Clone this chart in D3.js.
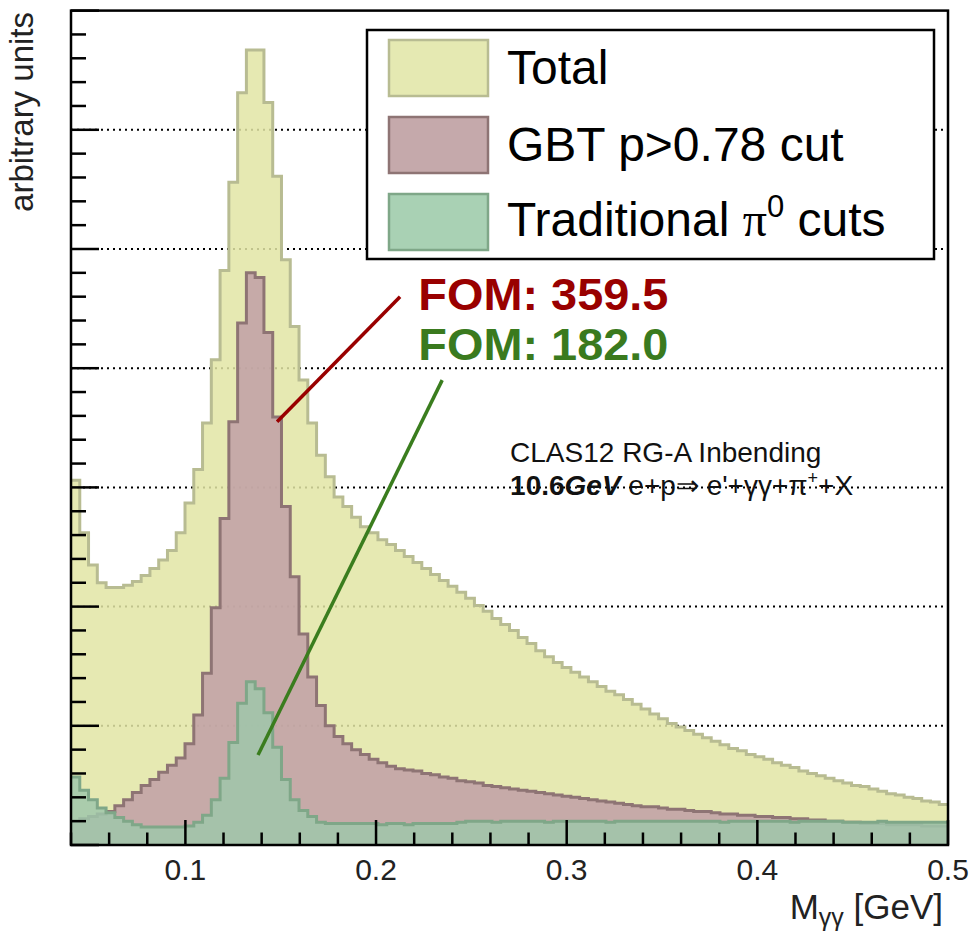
<!DOCTYPE html>
<html>
<head>
<meta charset="utf-8">
<script src="https://cdn.jsdelivr.net/npm/d3@7"></script>
<style>
  html, body { margin: 0; padding: 0; background: #fff; }
  svg { display: block; font-family: "Liberation Sans", Arial, Helvetica, sans-serif; }
</style>
</head>
<body>
<svg id="chart" width="971" height="933"></svg>
<script>
// Diphoton invariant mass, 100 bins between 0.04 and 0.5 GeV (arbitrary units)
const massLow = 0.04;
const massHigh = 0.5;
const nBins = 100;

const total = [
  306, 262, 235, 220, 216, 216, 218, 221, 226, 232,
  239, 247, 262, 287, 315, 354, 407, 482, 556, 631,
  667, 667, 623, 561, 491, 435, 390, 354, 327, 309,
  292, 284, 275, 267, 262, 256, 252, 247, 242, 237,
  232, 227, 222, 217, 212, 207, 201, 196, 190, 185,
  180, 174, 169, 163, 158, 153, 149, 145, 141, 137,
  133, 129, 126, 122, 118, 114, 110, 106, 102, 99,
  96, 93, 90, 87, 84, 81, 79, 76, 74, 72,
  69, 67, 65, 62, 60, 58, 56, 54, 52, 50,
  49, 47, 45, 43, 42, 40, 39, 37, 36, 34
];

const gbtCut = [
  20, 22, 24, 26, 28, 33, 38, 44, 50, 55,
  61, 67, 73, 85, 109, 144, 199, 274, 355, 438,
  480, 476, 430, 359, 284, 225, 177, 141, 117, 100,
  91, 85, 80, 76, 72, 69, 66, 64, 63, 62,
  60, 59, 57, 56, 54, 53, 52, 50, 49, 48,
  47, 46, 45, 44, 43, 42, 41, 40, 39, 38,
  37, 36, 35, 34, 33, 32, 32, 31, 30, 30,
  29, 28, 28, 27, 26, 26, 25, 25, 24, 24,
  23, 23, 22, 22, 21, 21, 20, 20, 19, 19,
  18, 18, 18, 17, 17, 17, 17, 16, 16, 16
];

const traditional = [
  57, 46, 38, 31, 27, 23, 20, 17, 15, 15,
  15, 15, 15, 16, 19, 25, 38, 56, 86, 119,
  137, 131, 111, 82, 55, 38, 29, 24, 19, 18,
  18, 18, 18, 18, 18, 17, 18, 18, 17, 18,
  18, 18, 18, 18, 19, 20, 20, 20, 19, 20,
  20, 20, 20, 20, 19, 20, 20, 20, 20, 20,
  20, 19, 20, 20, 20, 20, 20, 20, 20, 20,
  20, 20, 20, 20, 19, 20, 20, 20, 20, 20,
  20, 20, 19, 20, 20, 20, 20, 20, 19, 19,
  19, 19, 20, 19, 19, 19, 19, 19, 19, 19
];

const seriesNames = ["Total", "GBT p>0.78 cut", "Traditional"];
const xTickLabels = [0.1, 0.2, 0.3, 0.4, 0.5];
const yMajorTicks = [0, 100, 200, 300, 400, 500, 600, 700];

// annotation pointers [mass, value] and FOM labels
const fomLabels = ["FOM: 359.5", "FOM: 182.0"];
const redPointer = [[0.1481, 355], [0.2126, 460]];
const greenPointer = [[0.1381, 75.5], [0.2347, 390]];
const fomAnchors = [[0.2222, 448.8], [0.2222, 406.9]];
const infoAnchors = [[0.2703, 321.3], [0.2703, 293.6]];

// ---------------------------------------------------------------
const svg = d3.select("#chart");
const plotLeft = 71, plotRight = 948, plotTop = 10.6, plotBottom = 845;

const x = d3.scaleLinear().domain([massLow, massHigh]).range([plotLeft, plotRight]);
const y = d3.scaleLinear().domain([0, 700]).range([plotBottom, plotTop]);

const edges = d3.range(nBins + 1).map(i => massLow + i * (massHigh - massLow) / nBins);
const steps = vals => vals.flatMap((v, i) => [[edges[i], v], [edges[i + 1], v]]);

const colors = {
  fill: ["#e2e5a4", "#bf9fa6", "#9fc7aa"],
  line: ["#b8bc92", "#8e7474", "#7fa788"],
  swatch: ["#e5e9b2", "#c5a9ab", "#a9d1b4"]
};

// dotted horizontal grid
svg.append("g").selectAll("line")
  .data(yMajorTicks.filter(v => v > 0 && v < 700))
  .join("line")
  .attr("x1", x(massLow)).attr("x2", x(massHigh))
  .attr("y1", d => y(d)).attr("y2", d => y(d))
  .attr("stroke", "#000").attr("stroke-width", 2)
  .attr("stroke-dasharray", "2 4");

// histograms
const area = d3.area().x(d => x(d[0])).y0(y(0)).y1(d => y(d[1]));
const line = d3.line().x(d => x(d[0])).y(d => y(d[1]));
const hists = svg.append("g");
[total, gbtCut, traditional].forEach((vals, i) => {
  const pts = steps(vals);
  hists.append("path").attr("d", area(pts))
    .attr("fill", colors.fill[i]).attr("fill-opacity", 0.85);
  hists.append("path").attr("d", line(pts))
    .attr("fill", "none").attr("stroke", colors.line[i])
    .attr("stroke-width", 3).attr("stroke-linejoin", "miter");
});

// pointer lines and FOM labels
const ptr = d3.line().x(d => x(d[0])).y(d => y(d[1]));
svg.append("path").attr("d", ptr(redPointer))
  .attr("stroke", "#990000").attr("stroke-width", 3.5).attr("fill", "none");
svg.append("path").attr("d", ptr(greenPointer))
  .attr("stroke", "#3a7d1e").attr("stroke-width", 3.5).attr("fill", "none");

svg.append("g").selectAll("text")
  .data(fomLabels)
  .join("text")
  .attr("x", (d, i) => x(fomAnchors[i][0]))
  .attr("y", (d, i) => y(fomAnchors[i][1]))
  .attr("font-size", 45).attr("font-weight", "bold")
  .attr("textLength", 250).attr("lengthAdjust", "spacingAndGlyphs")
  .attr("fill", (d, i) => i === 0 ? "#990000" : "#3a7a1e")
  .text(d => d);

// experiment info
svg.append("text")
  .attr("x", x(infoAnchors[0][0])).attr("y", y(infoAnchors[0][1]))
  .attr("font-size", 28).attr("fill", "#111")
  .text("CLAS12 RG-A Inbending");
const info2 = svg.append("text")
  .attr("x", x(infoAnchors[1][0])).attr("y", y(infoAnchors[1][1]))
  .attr("font-size", 28).attr("fill", "#111");
info2.append("tspan").attr("font-weight", "bold").text("10.6");
info2.append("tspan").attr("font-weight", "bold").attr("font-style", "italic").text("GeV");
info2.append("tspan").text(" e+p\u21D2 e'+\u03B3\u03B3+\u03C0");
info2.append("tspan").attr("font-size", 18).attr("dy", -11).text("+");
info2.append("tspan").attr("dy", 11).text("+X");

// legend
const lg = svg.append("g");
lg.append("rect").attr("x", 367).attr("y", 30).attr("width", 567).attr("height", 229)
  .attr("fill", "#fff").attr("stroke", "#000").attr("stroke-width", 2.5);
const rows = [
  { sy: 40, ty: 84 },
  { sy: 117, ty: 161 },
  { sy: 194, ty: 236 }
];
rows.forEach((r, i) => {
  lg.append("rect").attr("x", 389).attr("y", r.sy).attr("width", 99).attr("height", 56)
    .attr("fill", colors.swatch[i]).attr("stroke", colors.line[i]).attr("stroke-width", 2.5);
  const t = lg.append("text").attr("x", 507).attr("y", r.ty)
    .attr("font-size", 48).attr("fill", "#000");
  if (i < 2) {
    t.text(seriesNames[i]);
  } else {
    t.append("tspan").text(seriesNames[i] + " ");
    t.append("tspan").attr("font-family", "'Liberation Serif', 'DejaVu Serif', serif").text("\u03C0");
    t.append("tspan").attr("font-size", 31).attr("dy", -19).text("0");
    t.append("tspan").attr("dy", 19).text(" cuts");
  }
});

// axes: ticks pointing inward, frame around the plot
const axes = svg.append("g").attr("stroke", "#000");
const xMinor = d3.range(0.04, 0.5001, 0.02).filter(v => !xTickLabels.some(t => Math.abs(t - v) < 1e-9));
axes.append("g").selectAll("line").data(xTickLabels).join("line")
  .attr("x1", d => x(d)).attr("x2", d => x(d))
  .attr("y1", plotBottom).attr("y2", plotBottom - 25).attr("stroke-width", 2.5);
axes.append("g").selectAll("line").data(xMinor).join("line")
  .attr("x1", d => x(d)).attr("x2", d => x(d))
  .attr("y1", plotBottom).attr("y2", plotBottom - 12.5).attr("stroke-width", 2.5);

const yMinor = d3.range(0, 701, 20).filter(v => v % 100 !== 0);
axes.append("g").selectAll("line").data(yMajorTicks).join("line")
  .attr("x1", plotLeft).attr("x2", plotLeft + 28)
  .attr("y1", d => y(d)).attr("y2", d => y(d)).attr("stroke-width", 2.5);
axes.append("g").selectAll("line").data(yMinor).join("line")
  .attr("x1", plotLeft).attr("x2", plotLeft + 15)
  .attr("y1", d => y(d)).attr("y2", d => y(d)).attr("stroke-width", 2.5);

axes.append("rect").attr("x", plotLeft).attr("y", plotTop)
  .attr("width", plotRight - plotLeft).attr("height", plotBottom - plotTop)
  .attr("fill", "none").attr("stroke-width", 2.5);

svg.append("g").selectAll("text").data(xTickLabels).join("text")
  .attr("x", d => x(d)).attr("y", 880)
  .attr("text-anchor", "middle").attr("font-size", 30).attr("fill", "#222")
  .text(d => d3.format(".1f")(d));

// axis titles
const xt = svg.append("text").attr("x", 943).attr("y", 919)
  .attr("text-anchor", "end").attr("font-size", 35).attr("fill", "#222");
xt.append("tspan").text("M");
xt.append("tspan").attr("font-size", 25).attr("dy", 7).text("\u03B3\u03B3");
xt.append("tspan").attr("dy", -7).text(" [GeV]");

svg.append("text")
  .attr("transform", "translate(33,12) rotate(-90)")
  .attr("text-anchor", "end").attr("font-size", 33).attr("fill", "#222")
  .text("arbitrary units");
</script>
</body>
</html>
